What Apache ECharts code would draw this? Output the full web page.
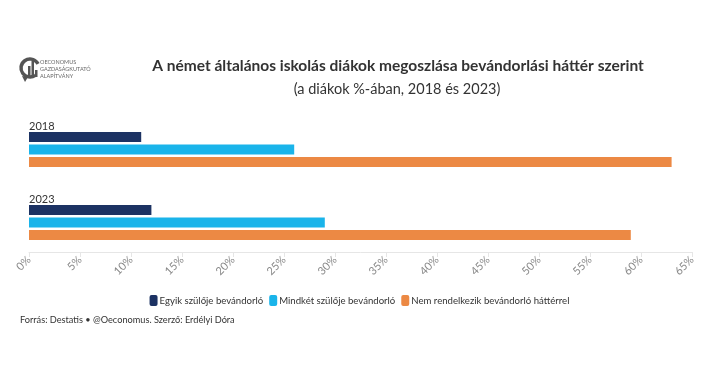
<!DOCTYPE html>
<html><head><meta charset="utf-8">
<script src="https://cdn.jsdelivr.net/npm/echarts@6/dist/echarts.min.js"></script>
<style>html,body{margin:0;padding:0;background:#fff}#c{width:719px;height:377px}</style>
</head><body><div id="c"></div>
<script>
const years = ['2018', '2023'];
const seriesNames = ['Egyik szülője bevándorló', 'Mindkét szülője bevándorló', 'Nem rendelkezik bevándorló háttérrel'];
const egyik = [11, 12];
const mindket = [26, 29];
const nem = [63, 59];
const tickMax = 65;

const colors = ['#1c3263', '#1ab4ea', '#ec8944'];
const FONT = 'Lato';
const chart = echarts.init(document.getElementById('c'));
const mk = (name, data, i) => ({
  name, type: 'bar', data, barWidth: 10, barGap: '25%',
  itemStyle: { color: colors[i] }, silent: true
});
chart.setOption({
  animation: false,
  textStyle: { fontFamily: FONT },
  title: [{
    text: 'A német általános iskolás diákok megoszlása bevándorlási háttér szerint',
    left: 393, top: 53, textAlign: 'center',
    textStyle: { fontSize: 15.5, fontWeight: 'bold', color: '#333', fontFamily: FONT }
  }, {
    text: '(a diákok %-ában, 2018 és 2023)',
    left: 392, top: 77, textAlign: 'center',
    textStyle: { fontSize: 14.5, fontWeight: 'normal', color: '#333', fontFamily: FONT }
  }, {
    text: 'Forrás: Destatis • @Oeconomus. Szerző: Erdélyi Dóra',
    left: 15, top: 311,
    textStyle: { fontSize: 9.2, fontWeight: 'normal', color: '#333', fontFamily: FONT }
  }],
  legend: {
    data: seriesNames, left: 'center', top: 290, itemWidth: 8, itemHeight: 11, itemGap: 6,
    icon: 'roundRect',
    textStyle: { fontSize: 9.6, color: '#333', fontFamily: FONT, padding: [0, 0, 0, -3] }
  },
  grid: { left: 29, right: 27, top: 113, height: 146 },
  xAxis: {
    type: 'value', min: 0, max: tickMax, interval: 5, offset: -7,
    axisLine: { show: true, lineStyle: { color: '#e6e6e6' } },
    axisTick: { show: true, length: 5, lineStyle: { color: '#e6e6e6' } },
    splitLine: { show: false },
    axisLabel: { rotate: 45, formatter: '{value}%', color: '#888', fontSize: 11, margin: 6 }
  },
  yAxis: {
    type: 'category', data: years, inverse: true,
    axisLine: { show: false }, axisTick: { show: false },
    axisLabel: { inside: true, align: 'left', verticalAlign: 'bottom', margin: 0,
      padding: [0, 0, 18, 0], color: '#333', fontSize: 11 }
  },
  series: [mk(seriesNames[0], egyik, 0), mk(seriesNames[1], mindket, 1), mk(seriesNames[2], nem, 2)],
  graphic: [
    { type: 'arc', shape: { cx: 30, cy: 68, r: 9, startAngle: Math.PI * 0.3, endAngle: Math.PI * 1.85 },
      style: { stroke: '#555', lineWidth: 3.5, fill: null } },
    { type: 'polygon', shape: { points: [[22, 76], [25, 82], [28, 77]] }, style: { fill: '#555' } },
    { type: 'rect', shape: { x: 28, y: 66, width: 2.5, height: 11 }, style: { fill: '#555' } },
    { type: 'rect', shape: { x: 31.5, y: 61, width: 2.5, height: 16 }, style: { fill: '#555' } },
    { type: 'rect', shape: { x: 35, y: 70, width: 2.5, height: 7 }, style: { fill: '#555' } },
    { type: 'text', left: 40, top: 59, style: { text: 'OECONOMUS\nGAZDASÁGKUTATÓ\nALAPÍTVÁNY', fill: '#666', fontSize: 5.5, lineHeight: 7, fontFamily: FONT } }
  ]
});
</script></body></html>
